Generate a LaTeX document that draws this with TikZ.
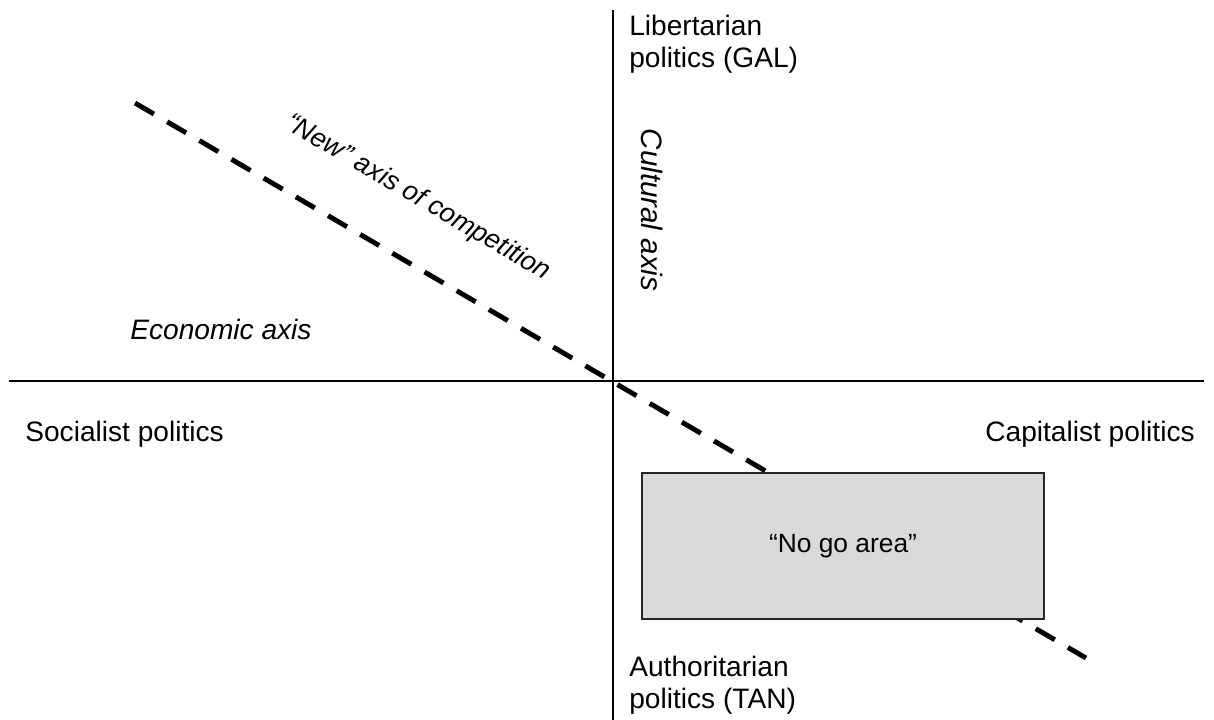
\documentclass[tikz,border=0pt]{standalone}
\usepackage{fontspec}
\setmainfont{Liberation Sans}
\usetikzlibrary{positioning}
\tikzset{
  axisline/.style={line width=1.1pt},
  newaxis/.style={line width=2.8pt, dash pattern=on 12.5pt off 8.7pt},
  pole/.style={inner sep=0pt, align=left, font=\fontsize{16}{18}\selectfont},
  axislabel/.style={inner sep=0pt, font=\fontsize{16}{18}\selectfont\itshape},
  nogobox/.style={draw=black!85, fill=black!15, line width=0.9pt,
    minimum width=8.04cm, minimum height=2.92cm, inner sep=0pt,
    font=\fontsize{15}{18}\selectfont}
}
\begin{document}
\begin{tikzpicture}[x=0.02cm, y=-0.02cm]
\useasboundingbox (0,0) rectangle (1214,720);
% Axes
\coordinate (west) at (9,381);
\coordinate (east) at (1204,381);
\coordinate (north) at (613,10);
\coordinate (south) at (613,720);
\draw [axisline] (west) -- (east);
\draw [axisline] (north) -- (south);
% "New" axis (dashed)
\coordinate (newstart) at (135,103);
\coordinate (newend) at (1086,658);
\draw [newaxis] (newstart) -- (newend);
% No go area
\node [nogobox] (nogo) at (843,546) {“No go area”};
% Poles of the axes (base = last line)
\node [pole, anchor=base west] (gal) at (629,67) {Libertarian\\politics (GAL)};
\node [pole, anchor=base west] (tan) at (629,708) {Authoritarian\\politics (TAN)};
\node [pole, anchor=base west] (socialist) at (25,441) {Socialist politics};
\node [pole, anchor=base west] (capitalist) at (985,441) {Capitalist politics};
% Axis names
\node [axislabel, anchor=base west] (economic) at (130,339) {Economic axis};
\node [axislabel, rotate=-90, font=\fontsize{16.8}{20}\selectfont\itshape] (cultural) at (652,210) {Cultural axis};
\node [axislabel, rotate=-30.3, font=\fontsize{15.3}{18}\selectfont\itshape] (newlabel) at (418,198) {“New” axis of competition};
\end{tikzpicture}
\end{document}
